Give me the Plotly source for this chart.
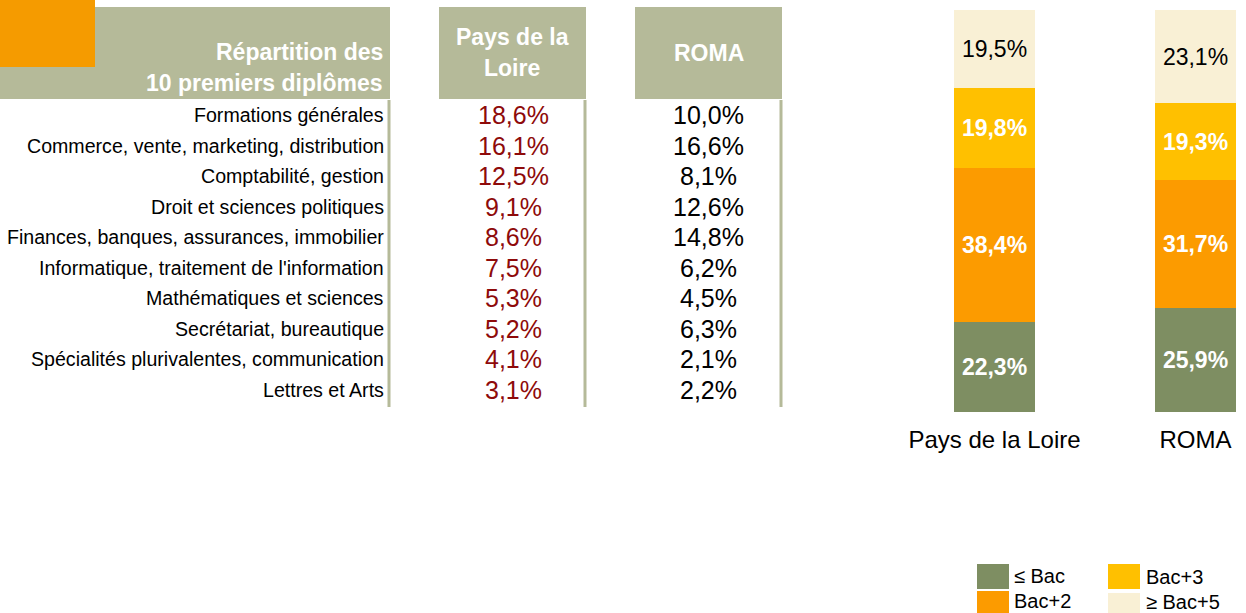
import plotly.graph_objects as go

W, H = 1246, 613

# table data
diplomes = [
    "Formations générales",
    "Commerce, vente, marketing, distribution",
    "Comptabilité, gestion",
    "Droit et sciences politiques",
    "Finances, banques, assurances, immobilier",
    "Informatique, traitement de l'information",
    "Mathématiques et sciences",
    "Secrétariat, bureautique",
    "Spécialités plurivalentes, communication",
    "Lettres et Arts",
]
pays_pct = [18.6, 16.1, 12.5, 9.1, 8.6, 7.5, 5.3, 5.2, 4.1, 3.1]
roma_pct = [10.0, 16.6, 8.1, 12.6, 14.8, 6.2, 4.5, 6.3, 2.1, 2.2]

# stacked bars data
zones = ["Pays de la Loire", "ROMA"]
niveaux = ["≤ Bac", "Bac+2", "Bac+3", "≥ Bac+5"]
niv_pays = [22.3, 38.4, 19.8, 19.5]
niv_roma = [25.9, 31.7, 19.3, 23.1]
niv_colors = ["#7E8E62", "#FC9B00", "#FFC000", "#F9F0D5"]

FONT = "Arial, Liberation Sans, sans-serif"
KHAKI = "#B5BA99"


def fr(v):
    return f"{v:.1f}".replace(".", ",") + "%"


def px(x):
    return x / W


def py(y):
    return 1 - y / H


fig = go.Figure()

for i, name in enumerate(niveaux):
    top = i == len(niveaux) - 1
    vals = [niv_pays[i], niv_roma[i]]
    fig.add_trace(go.Bar(
        x=zones, y=vals, name=name,
        marker=dict(color=niv_colors[i], line=dict(width=0)),
        width=81 / 201,
        text=[fr(v) for v in vals],
        textposition="inside", insidetextanchor="middle", textangle=0,
        textfont=dict(family=FONT, size=23,
                      color="black" if top else "white",
                      weight="normal" if top else "bold"),
        showlegend=False, hoverinfo="skip",
    ))

shapes = []
annots = []

# header boxes
shapes.append(dict(type="rect", xref="paper", yref="paper", x0=px(0), x1=px(390),
                   y0=py(99), y1=py(7), fillcolor=KHAKI, line_width=0, layer="below"))
shapes.append(dict(type="rect", xref="paper", yref="paper", x0=px(0), x1=px(95),
                   y0=py(67), y1=py(0), fillcolor="#F59B00", line_width=0, layer="below"))
for x0, x1 in [(439, 586), (635, 782)]:
    shapes.append(dict(type="rect", xref="paper", yref="paper", x0=px(x0), x1=px(x1),
                       y0=py(99), y1=py(7), fillcolor=KHAKI, line_width=0, layer="below"))
for xl in [389, 585, 781]:
    shapes.append(dict(type="line", xref="paper", yref="paper", x0=px(xl), x1=px(xl),
                       y0=py(100), y1=py(407), line=dict(color=KHAKI, width=3)))

hdr = dict(family=FONT, size=23, color="white", weight="bold")
annots.append(dict(text="Répartition des", x=px(385), y=py(52), xanchor="right",
                   yanchor="middle", font=hdr))
annots.append(dict(text="10 premiers diplômes", x=px(385), y=py(83), xanchor="right",
                   yanchor="middle", font=hdr))
annots.append(dict(text="Pays de la", x=px(512), y=py(37), xanchor="center",
                   yanchor="middle", font=hdr))
annots.append(dict(text="Loire", x=px(512), y=py(68), xanchor="center",
                   yanchor="middle", font=hdr))
annots.append(dict(text="ROMA", x=px(709), y=py(53), xanchor="center",
                   yanchor="middle", font=hdr))

row0, step = 115, 30.56
for i, lab in enumerate(diplomes):
    yy = py(row0 + i * step)
    annots.append(dict(text=lab, x=px(386), y=yy, xanchor="right", yanchor="middle",
                       font=dict(family=FONT, size=19.6, color="black")))
    annots.append(dict(text=fr(pays_pct[i]), x=px(513), y=yy, xanchor="center",
                       yanchor="middle", font=dict(family=FONT, size=25, color="#8E0A0A")))
    annots.append(dict(text=fr(roma_pct[i]), x=px(708), y=yy, xanchor="center",
                       yanchor="middle", font=dict(family=FONT, size=25, color="black")))

# legend (two columns)
leg_pos = [(977, 564, 1012, 576), (977, 591, 1012, 601),
           (1108, 564, 1144, 577), (1108, 593, 1144, 602)]
for i, name in enumerate(niveaux):
    x0, y0, tx, ty = leg_pos[i]
    shapes.append(dict(type="rect", xref="paper", yref="paper", x0=px(x0), x1=px(x0 + 32),
                       y0=py(y0 + 25), y1=py(y0), fillcolor=niv_colors[i], line_width=0))
    annots.append(dict(text=name, x=px(tx), y=py(ty), xanchor="left", yanchor="middle",
                       font=dict(family=FONT, size=20, color="black")))

for a in annots:
    a.update(xref="paper", yref="paper", showarrow=False)

fig.update_layout(
    width=W, height=H,
    margin=dict(l=0, r=0, t=0, b=0),
    paper_bgcolor="white", plot_bgcolor="white",
    barmode="stack", bargap=0,
    font=dict(family=FONT),
    xaxis=dict(domain=[px(894), 1], range=[-0.5, 352 / 201 - 0.5],
               showgrid=False, zeroline=False, showline=False,
               ticks="outside", ticklen=6, tickcolor="rgba(0,0,0,0)",
               tickfont=dict(family=FONT, size=24, color="black")),
    yaxis=dict(domain=[py(412), py(10)], range=[0, 100], visible=False),
    shapes=shapes, annotations=annots,
)

fig.write_html("out.html", config={"displayModeBar": False},
               post_script="document.body.style.margin='0';")
